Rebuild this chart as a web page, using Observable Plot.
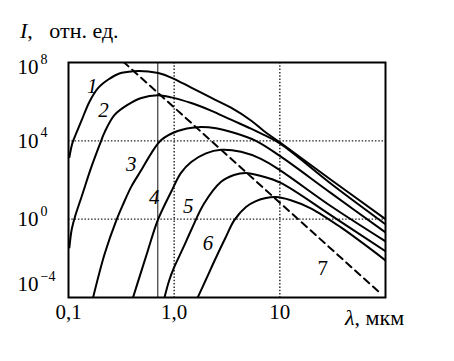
<!DOCTYPE html>
<html><head><meta charset="utf-8">
<script src="https://cdn.jsdelivr.net/npm/d3@7"></script>
<script src="https://cdn.jsdelivr.net/npm/@observablehq/plot@0.6"></script>
<style>body{margin:0;background:#fff} svg{display:block}</style>
</head><body><div id="chart"></div>
<script>
// wavelength, μm  /  intensity, rel. units
const c1Lambda = [0.102, 0.109, 0.119, 0.133, 0.158, 0.192, 0.238, 0.303, 0.41, 0.569, 0.706, 0.937, 1.45, 2.23, 3.45, 5.33, 7.06, 10, 31.6, 100];
const c1I      = [1.5e3, 7.9e3, 2.6e4, 1.1e5, 1.0e6, 5.2e6, 1.35e7, 2.75e7, 3.6e7, 3.5e7, 2.9e7, 1.7e7, 5.2e6, 1.6e6, 4.9e5, 1.1e5, 3.2e4, 8.3e3, 89, 1.0];
const c2Lambda = [0.102, 0.107, 0.115, 0.133, 0.165, 0.205, 0.22, 0.273, 0.366, 0.489, 0.70, 0.937, 1.45, 2.23, 3.45, 5.33, 7.06, 10, 31.6, 100];
const c2I      = [0.036, 0.28, 1.3, 14, 480, 1.1e4, 2.8e4, 2.1e5, 7.1e5, 1.55e6, 2.1e6, 1.66e6, 8.5e5, 3.5e5, 1.2e5, 4.2e4, 2.0e4, 7.4e3, 56, 0.55];
const c3Lambda = [0.171, 0.22, 0.284, 0.328, 0.393, 0.489, 0.607, 0.754, 1.08, 1.67, 2.49, 3.68, 5.94, 10, 30.3, 100];
const c3I      = [1e-4, 0.017, 0.89, 5.6, 46, 320, 2.3e3, 1.1e4, 3.2e4, 5.0e4, 4.4e4, 2.6e4, 1.0e4, 1.7e3, 22, 0.21];
const c4Lambda = [0.408, 0.475, 0.565, 0.70, 0.937, 1.16, 1.45, 2.0, 2.78, 4.29, 6.62, 10, 30.3, 100];
const c4I      = [1e-4, 1.35e-3, 0.026, 0.89, 25, 230, 830, 2.3e3, 3.5e3, 2.75e3, 1.2e3, 320, 4.7, 0.074];
const c5Lambda = [0.81, 0.897, 1.0, 1.21, 1.45, 1.92, 2.78, 3.68, 4.78, 6.62, 10.2, 30.3, 100];
const c5I      = [1e-4, 7.4e-4, 3.5e-3, 0.032, 0.28, 6.3, 81, 180, 230, 160, 71, 1.6, 0.023];
const c6Lambda = [1.67, 2.0, 2.49, 3.1, 3.71, 4.78, 5.94, 7.38, 9.17, 12.7, 19.6, 37.6, 100];
const c6I      = [1e-4, 8.3e-4, 0.011, 0.13, 0.89, 4.2, 8.3, 12, 13.5, 9.3, 3.6, 0.39, 7.9e-3];
// curve 7: locus of maxima (dashed)
const c7Lambda = [0.33, 90];
const c7I      = [1.1e8, 1.6e-4];

const curveNames = ["1", "2", "3", "4", "5", "6", "7"];
const labelLambda = [0.168, 0.214, 0.393, 0.648, 1.36, 2.09, 25.5];
const labelI      = [5.9e6, 3.5e5, 660, 13.5, 4.7, 0.059, 3.1e-3];

const xTickValues = [0.1, 1, 10];
const xTickLabels = ["0,1", "1,0", "10"];
const yTickValues = [1e8, 1e4, 1, 1e-4];
const yTickExp    = ["8", "4", "0", "\u22124"];
const xGrid = [1, 10];
const yGrid = [1e4, 1];
const visibleEdge = [0.7];

const solid = [[c1Lambda, c1I], [c2Lambda, c2I], [c3Lambda, c3I], [c4Lambda, c4I], [c5Lambda, c5I], [c6Lambda, c6I]]
  .flatMap(([L, I], k) => L.map((l, i) => ({lambda: l, I: I[i], curve: curveNames[k]})));
const wien = c7Lambda.map((l, i) => ({lambda: l, I: c7I[i]}));
const labels = curveNames.map((n, i) => ({n, lambda: labelLambda[i], I: labelI[i]}));

const FONT = "Liberation Serif, Times New Roman, serif";
const yLab = (vals, dy) => [
  Plot.text(vals, {x: 0.1, y: d => d, dx: -51, dy, text: () => "10", textAnchor: "start", fontSize: 21}),
  Plot.text(vals, {x: 0.1, y: d => d, dx: -28, dy: dy - 8, text: d => yTickExp[yTickValues.indexOf(d)], textAnchor: "start", fontSize: 14})
];

const chart = Plot.plot({
  width: 454, height: 361,
  marginLeft: 68, marginRight: 69, marginTop: 62, marginBottom: 64,
  x: {type: "log", domain: [0.1, 100], axis: null},
  y: {type: "log", domain: [1e-4, 1e8], axis: null},
  style: {fontFamily: FONT, background: "white", color: "black"},
  marks: [
    Plot.ruleX(xGrid, {stroke: "#222", strokeWidth: 1.4, strokeDasharray: "1.5,1.8"}),
    Plot.ruleY(yGrid, {stroke: "#222", strokeWidth: 1.4, strokeDasharray: "1.5,1.8"}),
    Plot.ruleX(visibleEdge, {stroke: "#111", strokeWidth: 1}),
    Plot.line(solid, {x: "lambda", y: "I", z: "curve", curve: "catmull-rom", stroke: "black", strokeWidth: 2, clip: true}),
    Plot.line(wien, {x: "lambda", y: "I", stroke: "black", strokeWidth: 2, strokeDasharray: "7,5", clip: true}),
    Plot.frame({stroke: "black", strokeWidth: 2}),
    Plot.text(labels.slice(0, 6), {x: "lambda", y: "I", text: "n", fontSize: 21, fontStyle: "italic"}),
    Plot.text(labels.slice(6), {x: "lambda", y: "I", text: "n", fontSize: 21}),
    Plot.text(xTickValues, {x: d => d, frameAnchor: "bottom", dy: 21, text: (d, i) => xTickLabels[i], fontSize: 21}),
    ...yLab([yTickValues[0]], 5),
    ...yLab(yTickValues.slice(1, 3), 0),
    ...yLab([yTickValues[3]], -13)
  ]
});
document.getElementById("chart").appendChild(chart);

const svg = d3.select(chart);
const t1 = svg.append("text").attr("x", 20).attr("y", 38).attr("text-anchor", "start").attr("font-family", FONT).attr("font-size", 22).attr("fill", "black");
t1.append("tspan").attr("font-style", "italic").text("I");
t1.append("tspan").attr("xml:space", "preserve").style("white-space", "pre").text(",   отн. ед.");
const t2 = svg.append("text").attr("x", 345).attr("y", 325).attr("text-anchor", "start").attr("font-family", FONT).attr("font-size", 22).attr("fill", "black");
t2.append("tspan").attr("font-style", "italic").text("λ");
t2.append("tspan").text(", мкм");
</script></body></html>
